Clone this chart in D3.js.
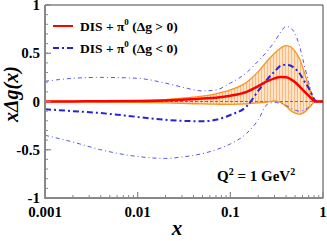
<!DOCTYPE html>
<meta charset="utf-8">
<style>
body { margin: 0; background: #fff; }
svg text { font-family: "Liberation Serif", "Times New Roman", serif; font-weight: bold; fill: #000; }
.tick-label { font-size: 15px; }
</style>
<body>
<svg width="327" height="241"></svg>
<script src="https://cdnjs.cloudflare.com/ajax/libs/d3/7.8.5/d3.min.js"></script>
<script>

// x grid shared by every curve
var xGrid = [0.001, 0.002, 0.004, 0.01, 0.02, 0.03, 0.05, 0.07, 0.1, 0.15, 0.2, 0.25, 0.3, 0.35, 0.4, 0.45, 0.5, 0.56, 0.62, 0.7, 0.76, 0.82, 0.88, 1];

// DIS + pi0, Delta g > 0 : central and band
var posCentral = [0, 0.001, 0.002, 0.005, 0.01, 0.017, 0.03, 0.04, 0.06, 0.1, 0.16, 0.21, 0.24, 0.253, 0.252, 0.23, 0.2, 0.155, 0.11, 0.06, 0.025, 0.003, 0, 0];
var posUpper = [0.002, 0.003, 0.005, 0.01, 0.02, 0.035, 0.055, 0.08, 0.12, 0.2, 0.31, 0.42, 0.5, 0.555, 0.58, 0.565, 0.52, 0.44, 0.32, 0.16, 0.06, 0.005, 0, 0];
var posLower = [-0.002, -0.003, -0.005, -0.01, -0.015, -0.02, -0.025, -0.028, -0.03, -0.025, -0.015, -0.005, 0.005, -0.01, -0.05, -0.095, -0.12, -0.13, -0.115, -0.07, -0.03, -0.005, 0, 0];

// DIS + pi0, Delta g < 0 : central and band
var negCentral = [-0.08, -0.1, -0.12, -0.16, -0.19, -0.2, -0.205, -0.19, -0.14, -0.05, 0.11, 0.23, 0.31, 0.37, 0.38, 0.37, 0.34, 0.29, 0.22, 0.14, 0.07, 0.012, 0, 0];
var negUpper = [0.21, 0.24, 0.25, 0.24, 0.19, 0.15, 0.11, 0.12, 0.19, 0.3, 0.42, 0.52, 0.62, 0.72, 0.78, 0.76, 0.7, 0.57, 0.4, 0.2, 0.08, 0.01, 0, 0];
var negLower = [-0.35, -0.42, -0.5, -0.57, -0.59, -0.575, -0.54, -0.5, -0.44, -0.33, -0.19, -0.03, -0.01, -0.02, -0.04, -0.07, -0.09, -0.1, -0.09, -0.06, -0.03, -0.005, 0, 0];

var xTicks = [0.001, 0.01, 0.1, 1];
var xTickLabels = ["0.001", "0.01", "0.1", "1"];
var yTicks = [-1, -0.5, 0, 0.5, 1];
var yTickLabels = ["-1", "-0.5", "0", "0.5", "1"];

var svg = d3.select("svg");

// plot box (note: "top" is reserved on window, so use px* names)
var pxL = 45, pxR = 323, pxT = 5, pxB = 198;

var x = d3.scaleLog().domain([0.001, 1]).range([pxL, pxR]);
var y = d3.scaleLinear().domain([-1, 1]).range([pxB, pxT]);

var defs = svg.append("defs");
defs.append("clipPath").attr("id", "clip")
  .append("rect").attr("x", pxL).attr("y", pxT).attr("width", pxR - pxL).attr("height", pxB - pxT);

var pat = defs.append("pattern").attr("id", "hatch")
  .attr("patternUnits", "userSpaceOnUse").attr("width", 3).attr("height", 10);
pat.append("rect").attr("width", 3).attr("height", 10).attr("fill", "#fee3c6");
pat.append("line").attr("x1", 0.5).attr("x2", 0.5).attr("y1", 0).attr("y2", 10)
  .attr("stroke", "#f8b070").attr("stroke-width", 0.8);

function pts(vals) { return xGrid.map(function(d, i) { return [d, vals[i]]; }); }

var line = d3.line()
  .x(function(d) { return x(d[0]); })
  .y(function(d) { return y(d[1]); })
  .curve(d3.curveMonotoneX);

var area = d3.area()
  .x(function(d) { return x(d.x); })
  .y0(function(d) { return y(d.lo); })
  .y1(function(d) { return y(d.hi); })
  .curve(d3.curveMonotoneX);

var g = svg.append("g").attr("clip-path", "url(#clip)");

// orange band
g.append("path")
  .datum(xGrid.map(function(d, i) { return { x: d, lo: posLower[i], hi: posUpper[i] }; }))
  .attr("d", area)
  .attr("fill", "url(#hatch)");

// zero line
g.append("line")
  .attr("x1", pxL).attr("x2", pxR).attr("y1", y(0)).attr("y2", y(0))
  .attr("stroke", "#555").attr("stroke-width", 0.8).attr("stroke-dasharray", "3,2");

g.selectAll("path.band-edge").data([posUpper, posLower]).enter().append("path")
  .attr("class", "band-edge")
  .attr("d", function(d) { return line(pts(d)); })
  .attr("fill", "none").attr("stroke", "#f7931e").attr("stroke-width", 1.3);

// thin blue bounds
g.selectAll("path.neg-edge").data([negUpper, negLower]).enter().append("path")
  .attr("class", "neg-edge")
  .attr("d", function(d) { return line(pts(d)); })
  .attr("fill", "none").attr("stroke", "#5656e8").attr("stroke-width", 1)
  .attr("stroke-dasharray", "4,3,1,3");

// thick blue central
g.append("path")
  .attr("d", line(pts(negCentral)))
  .attr("fill", "none").attr("stroke", "#2424d6").attr("stroke-width", 2)
  .attr("stroke-dasharray", "6,3,2,3");

// red central
g.append("path")
  .attr("d", line(pts(posCentral)))
  .attr("fill", "none").attr("stroke", "#ff0000").attr("stroke-width", 2.5);

// frame
svg.append("line").attr("x1", pxL).attr("x2", pxR).attr("y1", pxT).attr("y2", pxT)
  .attr("stroke", "#444").attr("stroke-width", 1);
svg.append("line").attr("x1", pxR).attr("x2", pxR).attr("y1", pxT).attr("y2", pxB)
  .attr("stroke", "#444").attr("stroke-width", 1);

// x axis
var xMinor = [];
for (var e = -3; e < 0; e++) for (var m = 2; m <= 9; m++) xMinor.push(m * Math.pow(10, e));
var xa = svg.append("g").attr("stroke", "#888");
xa.selectAll("line.minor").data(xMinor).enter().append("line")
  .attr("x1", function(d) { return x(d); }).attr("x2", function(d) { return x(d); })
  .attr("y1", pxB).attr("y2", pxB - 3).attr("stroke-width", 1);
xa.selectAll("line.major").data(xTicks).enter().append("line")
  .attr("x1", function(d) { return x(d); }).attr("x2", function(d) { return x(d); })
  .attr("y1", pxB).attr("y2", pxB - 6).attr("stroke-width", 1.2);
xa.append("line").attr("x1", pxL).attr("x2", pxR + 0.5).attr("y1", pxB).attr("y2", pxB)
  .attr("stroke-width", 2);

svg.selectAll("text.xlab").data(xTicks).enter().append("text")
  .attr("class", "tick-label")
  .attr("x", function(d) { return x(d); }).attr("y", 217)
  .attr("text-anchor", "middle")
  .text(function(d, i) { return xTickLabels[i]; });

// y axis
var yMinor = d3.range(-10, 11).map(function(d) { return d / 10; });
var ya = svg.append("g").attr("stroke", "#888");
ya.selectAll("line.minor").data(yMinor).enter().append("line")
  .attr("x1", pxL).attr("x2", pxL + 3)
  .attr("y1", function(d) { return y(d); }).attr("y2", function(d) { return y(d); })
  .attr("stroke-width", 1);
ya.selectAll("line.major").data(yTicks).enter().append("line")
  .attr("x1", pxL).attr("x2", pxL + 6)
  .attr("y1", function(d) { return y(d); }).attr("y2", function(d) { return y(d); })
  .attr("stroke-width", 1.2);
ya.append("line").attr("x1", pxL).attr("x2", pxL).attr("y1", pxT).attr("y2", pxB + 1)
  .attr("stroke-width", 2);

svg.selectAll("text.ylab").data(yTicks).enter().append("text")
  .attr("class", "tick-label")
  .attr("x", 40).attr("y", function(d) { return y(d) + 5; })
  .attr("text-anchor", "end")
  .text(function(d, i) { return yTickLabels[i]; });

// axis titles
svg.append("text")
  .attr("x", 177).attr("y", 235)
  .attr("text-anchor", "middle")
  .style("font-size", "21px").style("font-style", "italic")
  .text("x");

svg.append("text")
  .attr("transform", "translate(18,94) rotate(-90)")
  .attr("text-anchor", "middle")
  .style("font-size", "20px").style("font-style", "italic")
  .text("xΔg(x)");

// legend
var legend = svg.append("g");
legend.append("line").attr("x1", 53).attr("x2", 73).attr("y1", 26).attr("y2", 26)
  .attr("stroke", "#ff0000").attr("stroke-width", 2);
legend.append("line").attr("x1", 53).attr("x2", 73).attr("y1", 48).attr("y2", 48)
  .attr("stroke", "#2424d6").attr("stroke-width", 2).attr("stroke-dasharray", "6,3,2,3");

var l1 = legend.append("text").attr("x", 80).attr("y", 31).style("font-size", "13.5px");
l1.append("tspan").text("DIS + π");
l1.append("tspan").attr("dy", -6).style("font-size", "9px").text("0");
l1.append("tspan").attr("dy", 6).text(" (Δg > 0)");

var l2 = legend.append("text").attr("x", 80).attr("y", 53).style("font-size", "13.5px");
l2.append("tspan").text("DIS + π");
l2.append("tspan").attr("dy", -6).style("font-size", "9px").text("0");
l2.append("tspan").attr("dy", 6).text(" (Δg < 0)");

// Q^2 label
var q = svg.append("text").attr("x", 217).attr("y", 181).style("font-size", "15px");
q.append("tspan").text("Q");
q.append("tspan").attr("dy", -6).style("font-size", "10px").text("2");
q.append("tspan").attr("dy", 6).text(" = 1 GeV");
q.append("tspan").attr("dy", -6).style("font-size", "10px").text("2");

</script>
</body>
